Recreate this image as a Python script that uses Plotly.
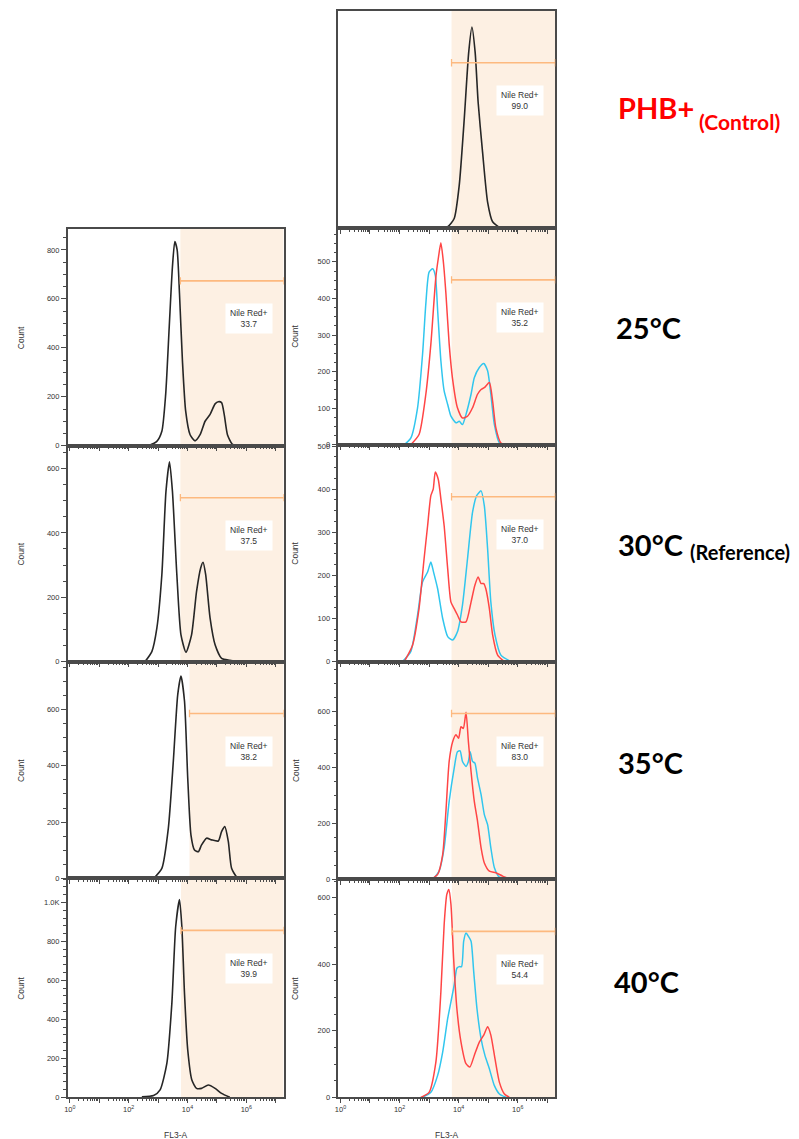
import plotly.graph_objects as go

W, H = 799, 1139
OFFX, OFFY, SY = 10, 9, 0.9936  # measured placement of the figure inside the photographed window

# ---------------- data (FL3-A in log10 units, Count) ----------------
ctrl_x = [3.45, 3.63, 3.85, 4.02, 4.19, 4.34, 4.45, 4.56, 4.66, 4.81, 4.98, 5.15, 5.38, 5.55]
ctrl_y = [0, 5, 43, 196, 502, 808, 926, 808, 579, 349, 119, 28, 3, 0]

l25_x = [2.68, 2.96, 3.13, 3.26, 3.38, 3.49, 3.57, 3.65, 3.73, 3.83, 3.94, 4.09, 4.26, 4.43, 4.60, 4.77, 4.94, 5.05, 5.16, 5.25, 5.36, 5.52, 5.67]
l25_y = [0, 18, 59, 210, 484, 731, 834, 800, 621, 347, 141, 45, 20, 45, 100, 128, 171, 180, 176, 128, 45, 7, 0]

l30_x = [2.56, 2.79, 2.96, 3.13, 3.27, 3.39, 3.49, 3.64, 3.78, 3.95, 4.14, 4.31, 4.45, 4.53, 4.62, 4.77, 4.94, 5.16, 5.44, 5.73]
l30_y = [0, 31, 104, 270, 529, 621, 529, 270, 83, 29, 83, 218, 291, 309, 270, 135, 52, 10, 4, 0]

l35_x = [2.85, 3.13, 3.35, 3.52, 3.67, 3.78, 3.90, 4.01, 4.12, 4.24, 4.37, 4.48, 4.65, 4.82, 5.05, 5.16, 5.27, 5.39, 5.50, 5.67, 5.84]
l35_y = [0, 36, 178, 416, 653, 719, 630, 356, 154, 101, 95, 119, 143, 137, 133, 166, 184, 131, 36, 6, 0]

l40_x = [2.45, 2.85, 3.07, 3.30, 3.47, 3.60, 3.73, 3.81, 3.90, 4.01, 4.15, 4.31, 4.48, 4.71, 4.94, 5.16, 5.44]
l40_y = [3, 9, 38, 174, 482, 875, 1015, 875, 533, 243, 89, 46, 46, 63, 46, 20, 0]

r25_red_x = [2.38, 2.66, 2.89, 3.06, 3.23, 3.32, 3.40, 3.49, 3.57, 3.68, 3.79, 3.96, 4.13, 4.30, 4.47, 4.64, 4.76, 4.87, 5.04, 5.15, 5.26, 5.43, 5.60]
r25_red_y = [0, 28, 138, 275, 459, 514, 552, 495, 413, 275, 183, 101, 73, 78, 101, 138, 151, 156, 170, 119, 46, 5, 0]
r25_cyan_x = [2.16, 2.38, 2.61, 2.78, 2.89, 3.00, 3.12, 3.21, 3.29, 3.40, 3.51, 3.63, 3.74, 3.91, 4.02, 4.13, 4.25, 4.42, 4.53, 4.70, 4.85, 4.98, 5.09, 5.21, 5.38, 5.55]
r25_cyan_y = [0, 18, 101, 248, 385, 472, 481, 463, 367, 229, 147, 110, 78, 60, 64, 55, 83, 138, 183, 211, 222, 202, 138, 55, 5, 0]

r30_red_x = [2.16, 2.44, 2.66, 2.83, 2.95, 3.06, 3.14, 3.21, 3.31, 3.40, 3.51, 3.63, 3.74, 3.85, 3.96, 4.08, 4.25, 4.42, 4.55, 4.66, 4.76, 4.85, 4.92, 5.04, 5.15, 5.32, 5.55]
r30_red_y = [0, 38, 123, 238, 315, 385, 400, 440, 423, 377, 315, 215, 138, 123, 108, 92, 92, 138, 177, 196, 181, 181, 169, 123, 62, 15, 0]
r30_cyan_x = [2.10, 2.38, 2.61, 2.78, 2.95, 3.06, 3.15, 3.29, 3.46, 3.63, 3.80, 3.96, 4.13, 4.30, 4.47, 4.61, 4.76, 4.87, 4.98, 5.09, 5.23, 5.43, 5.77]
r30_cyan_y = [0, 23, 108, 185, 208, 231, 208, 169, 100, 58, 50, 69, 131, 238, 346, 385, 396, 361, 262, 138, 62, 15, 0]

r35_red_x = [3.06, 3.29, 3.46, 3.57, 3.68, 3.80, 3.91, 4.00, 4.08, 4.16, 4.25, 4.33, 4.42, 4.53, 4.64, 4.76, 4.87, 5.04, 5.26, 5.49, 5.77]
r35_red_y = [0, 18, 89, 244, 422, 493, 517, 505, 546, 540, 598, 493, 386, 279, 208, 113, 59, 30, 24, 12, 0]
r35_cyan_x = [3.12, 3.34, 3.51, 3.68, 3.85, 3.96, 4.05, 4.13, 4.25, 4.33, 4.39, 4.47, 4.55, 4.64, 4.76, 4.87, 4.98, 5.09, 5.21, 5.38, 5.66, 6.22]
r35_cyan_y = [0, 30, 113, 279, 398, 457, 460, 422, 404, 422, 457, 422, 416, 362, 303, 232, 196, 113, 42, 8, 2, 0]

r40_red_x = [2.72, 3.00, 3.23, 3.40, 3.51, 3.60, 3.67, 3.74, 3.83, 3.94, 4.08, 4.25, 4.38, 4.53, 4.70, 4.85, 4.98, 5.09, 5.23, 5.38, 5.55, 5.72]
r40_red_y = [0, 15, 106, 318, 519, 610, 625, 580, 418, 267, 166, 101, 91, 126, 166, 187, 212, 187, 116, 45, 10, 0]
r40_cyan_x = [2.78, 3.06, 3.29, 3.46, 3.63, 3.74, 3.85, 3.94, 4.02, 4.10, 4.17, 4.25, 4.33, 4.42, 4.51, 4.62, 4.76, 4.89, 5.04, 5.21, 5.38, 5.60]
r40_cyan_y = [0, 15, 66, 136, 237, 287, 338, 388, 393, 393, 469, 494, 484, 469, 378, 267, 176, 126, 86, 35, 10, 0]

# gates (log10 FL3-A) and percentages
gate_lo = {"L25": 3.76, "L30": 3.76, "L35": 4.07, "L40": 3.78,
           "RC": 3.76, "R25": 3.76, "R30": 3.76, "R35": 3.76, "R40": 3.77}
gate_hi = 7.27
pct = {"RC": "99.0", "L25": "33.7", "R25": "35.2", "L30": "37.5", "R30": "37.0",
       "L35": "38.2", "R35": "83.0", "L40": "39.9", "R40": "54.4"}

x_tickvals = [1, 10, 100, 1e3, 1e4, 1e5, 1e6, 1e7]
x_ticktext = ["10<sup>0</sup>", "", "10<sup>2</sup>", "", "10<sup>4</sup>", "", "10<sup>6</sup>", ""]

row_labels = ["PHB+", "25°C", "30°C", "35°C", "40°C"]
row_sub = {"PHB+": "(Control)", "30°C": "(Reference)"}

# ---------------- layout helpers ----------------
BLACK = "#262626"
RED = "#FF4545"
CYAN = "#31C6EE"
SHADE = "#FDF0E3"
GATE = "#FDB97F"
AX = "#4a4a4a"
TXT = "#333333"
TICKFONT = dict(family="Liberation Sans, Arial", size=7.5, color=TXT)


def px_x(p):
    return min(1.0, max(0.0, (p - OFFX) / W))


def px_y(p):
    return min(1.0, max(0.0, 1 - (p - OFFY) / SY / H))


LX = (66, 283)
RX = (338, 556)

panels = [
    ("RC", RX, (8, 226), [0, 1000], [], [], None, False,
     [(ctrl_x, ctrl_y, BLACK)]),
    ("L25", LX, (227, 444), [0, 886], [0, 200, 400, 600, 800], ["0", "200", "400", "600", "800"], 50, False,
     [(l25_x, l25_y, BLACK)]),
    ("R25", RX, (226, 443), [0, 593], [0, 100, 200, 300, 400, 500], ["0", "100", "200", "300", "400", "500"], 25, False,
     [(r25_cyan_x, r25_cyan_y, CYAN), (r25_red_x, r25_red_y, RED)]),
    ("L30", LX, (444, 660), [0, 671], [0, 200, 400, 600], ["0", "200", "400", "600"], 50, False,
     [(l30_x, l30_y, BLACK)]),
    ("R30", RX, (443, 660), [0, 503], [0, 100, 200, 300, 400, 500], ["0", "100", "200", "300", "400", "500"], 25, False,
     [(r30_cyan_x, r30_cyan_y, CYAN), (r30_red_x, r30_red_y, RED)]),
    ("L35", LX, (660, 877), [0, 770], [0, 200, 400, 600], ["0", "200", "400", "600"], 50, False,
     [(l35_x, l35_y, BLACK)]),
    ("R35", RX, (660, 878), [0, 779], [0, 200, 400, 600], ["0", "200", "400", "600"], 50, False,
     [(r35_cyan_x, r35_cyan_y, CYAN), (r35_red_x, r35_red_y, RED)]),
    ("L40", LX, (877, 1096), [0, 1123], [0, 200, 400, 600, 800, 1000], ["0", "200", "400", "600", "800", "1.0K"], 40, True,
     [(l40_x, l40_y, BLACK)]),
    ("R40", RX, (878, 1096), [0, 655], [0, 200, 400, 600], ["0", "200", "400", "600"], 50, True,
     [(r40_cyan_x, r40_cyan_y, CYAN), (r40_red_x, r40_red_y, RED)]),
]

fig = go.Figure()
shapes = []
annotations = []
minor_x = [k * 10 ** d for d in range(0, 8) for k in range(2, 10)]
SMALL = dict(family="Liberation Sans, Arial", size=8.5, color=TXT)

for i, (name, xpx, ypx, yrange, ytv, ytt, mdt, bottom, traces) in enumerate(panels):
    n = "" if i == 0 else str(i + 1)
    xa, ya = "x" + n, "y" + n
    xdom = [px_x(xpx[0]), px_x(xpx[1])]
    ydom = [px_y(ypx[1]), px_y(ypx[0])]
    for tx, ty, col in traces:
        fig.add_trace(go.Scatter(
            x=[10 ** v for v in tx], y=ty, mode="lines",
            line=dict(color=col, width=1.6 if col == BLACK else 1.5, shape="spline", smoothing=0.6),
            xaxis=xa, yaxis=ya, showlegend=False, hoverinfo="skip"))
    xaxis = dict(
        domain=xdom, anchor=ya, type="log", range=[-0.07, gate_hi],
        showline=True, mirror=True, linecolor=AX, linewidth=1.5,
        showgrid=False, zeroline=False,
        tickmode="array", tickvals=x_tickvals, ticktext=x_ticktext,
        ticks="outside", ticklen=4, tickwidth=1, tickcolor=AX,
        minor=dict(tickmode="array", tickvals=minor_x, ticks="outside", ticklen=2, tickcolor=AX),
        showticklabels=bottom, tickfont=TICKFONT, fixedrange=True,
    )
    yaxis = dict(
        domain=ydom, anchor=xa, range=yrange,
        showline=True, mirror=True, linecolor=AX, linewidth=1.5,
        showgrid=False, zeroline=False,
        tickmode="array", tickvals=ytv, ticktext=ytt,
        ticks="outside" if ytv else "", ticklen=5, tickwidth=1.2, tickcolor=AX,
        showticklabels=bool(ytv), tickfont=TICKFONT, fixedrange=True,
    )
    if mdt:
        yaxis["minor"] = dict(dtick=mdt, tick0=0, ticks="outside", ticklen=3, tickcolor=AX)
    fig.update_layout(**{("xaxis" + n): xaxis, ("yaxis" + n): yaxis})

    lo = 10 ** gate_lo[name]
    hi = 10 ** gate_hi
    shapes.append(dict(type="rect", xref=xa, yref=ya + " domain", x0=lo, x1=hi, y0=0, y1=1,
                       fillcolor=SHADE, line=dict(width=0), layer="below"))
    gy = 1 - 52 / (ypx[1] - ypx[0])
    shapes.append(dict(type="line", xref=xa, yref=ya + " domain", x0=lo, x1=hi, y0=gy, y1=gy,
                       line=dict(color=GATE, width=1.6)))
    for xc in (lo, hi):
        shapes.append(dict(type="line", xref=xa, yref=ya + " domain", x0=xc, x1=xc, y0=gy - 0.017, y1=gy + 0.017,
                           line=dict(color=GATE, width=1.3)))
    annotations.append(dict(xref=xa + " domain", yref=ya + " domain", x=0.839, y=1 - 90 / (ypx[1] - ypx[0]),
                            xanchor="center", yanchor="middle",
                            text="Nile Red+<br>" + pct[name], showarrow=False, bgcolor="white",
                            borderpad=4, font=SMALL))
    if ytv:
        cx = 19 if xpx == LX else 295
        annotations.append(dict(xref="paper", yref="paper", x=px_x(cx), y=px_y((ypx[0] + ypx[1]) / 2),
                                text="Count", textangle=-90, showarrow=False, xanchor="center", yanchor="middle",
                                font=SMALL))
    if bottom:
        annotations.append(dict(xref="paper", yref="paper", x=px_x((xpx[0] + xpx[1]) / 2), y=px_y(1134),
                                text="FL3-A", showarrow=False, xanchor="center", yanchor="middle",
                                font=SMALL))

# right-hand row labels
label_pos = {"PHB+": (617, 106), "25°C": (615, 326), "30°C": (617, 543), "35°C": (617, 761), "40°C": (613, 980)}
sub_pos = {"PHB+": (698, 120), "30°C": (689, 550)}
for lab in row_labels:
    px, py = label_pos[lab]
    col = "#FF0000" if lab == "PHB+" else "#000000"
    annotations.append(dict(xref="paper", yref="paper", x=px_x(px), y=px_y(py), text=lab, showarrow=False,
                            xanchor="left", yanchor="middle",
                            font=dict(family="Lato", size=29, color=col, weight=700)))
    if lab in row_sub:
        sx, sy = sub_pos[lab]
        annotations.append(dict(xref="paper", yref="paper", x=px_x(sx), y=px_y(sy), text=row_sub[lab],
                                showarrow=False, xanchor="left", yanchor="middle",
                                font=dict(family="Lato", size=20 if lab == "30°C" else 21, color=col, weight=700)))

fig.update_layout(width=W, height=H, autosize=False, margin=dict(l=0, r=0, t=0, b=0),
                  paper_bgcolor="white", plot_bgcolor="white", shapes=shapes, annotations=annotations,
                  showlegend=False)

fig.write_html("out.html")
